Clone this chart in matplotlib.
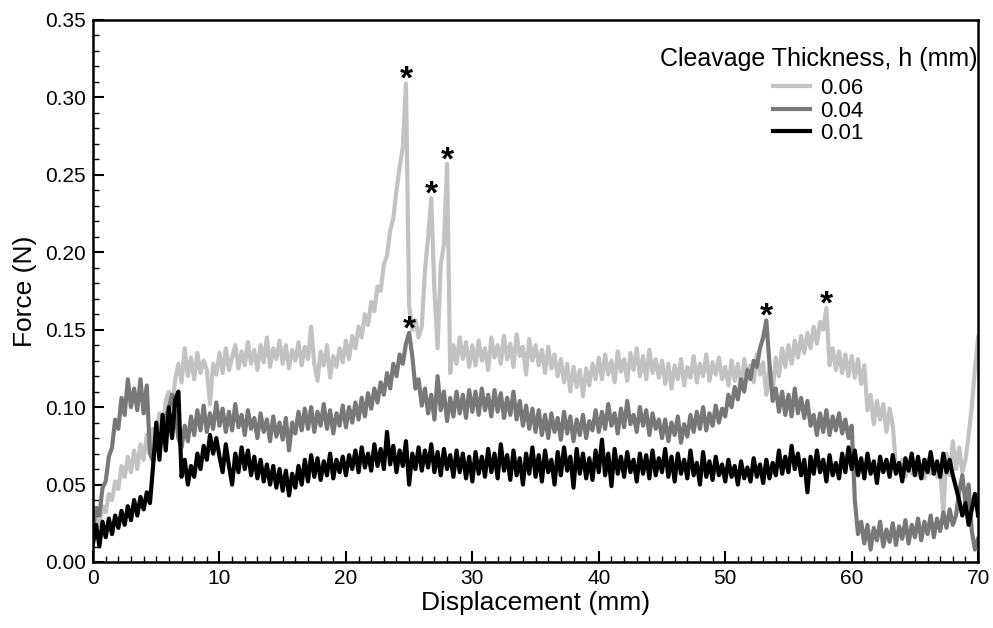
import numpy as np
import matplotlib
matplotlib.use("Agg")
import matplotlib.pyplot as plt
from matplotlib.ticker import MultipleLocator, FormatStrFormatter

# displacement grid (mm), one reading every 0.25 mm
disp = np.arange(0, 70.01, 0.25)

# force readings in mN, 20 values per 5 mm
force_h006 = [
    20, 28, 24, 36, 32, 44, 40, 52, 47, 62, 55, 68, 58, 72, 60, 76, 66, 82, 70, 86,
    78, 96, 84, 104, 110, 100, 118, 128, 116, 138, 120, 132, 118, 135, 122, 130, 124, 102, 128, 121,
    135, 122, 138, 124, 132, 140, 125, 136, 127, 142, 128, 137, 124, 140, 129, 145, 126, 138, 131, 143,
    128, 140, 125, 137, 130, 142, 127, 139, 131, 152, 128, 117, 136, 127, 140, 119, 133, 126, 138, 129,
    143, 131, 146, 138, 152, 145, 160, 153, 168, 162, 178, 175, 192, 198, 214, 222, 240, 255, 268, 309,
    165, 150, 156, 145, 152, 188, 210, 235, 175, 138, 192, 205, 257, 122, 140, 128, 145, 131, 142, 126,
    140, 127, 143, 130, 138, 124, 145, 132, 140, 128, 146, 131, 141, 126, 147, 133, 139, 121, 144, 130,
    140, 127, 137, 122, 139, 125, 134, 120, 131, 116, 128, 110, 126, 113, 124, 107, 125, 114, 128, 118,
    132, 118, 134, 121, 130, 116, 136, 123, 131, 117, 135, 124, 138, 120, 133, 118, 137, 122, 131, 119,
    130, 115, 128, 112, 127, 118, 131, 114, 126, 119, 133, 116, 128, 120, 134, 117, 129, 121, 132, 118,
    126, 114, 130, 117, 128, 112, 131, 119, 127, 116, 134, 121, 129, 108, 126, 110, 132, 120, 138, 126,
    140, 128, 143, 132, 146, 135, 148, 138, 152, 141, 155, 150, 164, 127, 138, 124, 136, 122, 134, 120,
    133, 119, 131, 115, 127, 98, 108, 89, 104, 92, 102, 84, 99, 88, 62, 58, 66, 55, 63, 57,
    64, 56, 62, 54, 66, 57, 63, 55, 60, 31, 70, 56, 78, 60, 74, 58, 66, 82, 100, 125,
    145,
]

force_h004 = [
    22, 35, 30, 48, 52, 68, 74, 92, 86, 106, 95, 118, 100, 112, 98, 118, 96, 114, 70, 65,
    76, 70, 86, 92, 100, 108, 96, 80, 74, 88, 78, 94, 82, 98, 85, 101, 84, 96, 86, 103,
    88, 99, 84, 97, 85, 102, 87, 95, 82, 98, 86, 93, 80, 96, 84, 92, 78, 94, 81, 90,
    79, 93, 72, 90, 83, 97, 85, 99, 86, 100, 84, 97, 88, 102, 86, 98, 83, 96, 88, 101,
    87, 100, 90, 103, 92, 106, 94, 109, 99, 112, 103, 116, 108, 122, 112, 128, 120, 134, 128, 141,
    148, 133, 112, 118, 101, 112, 96, 108, 92, 120, 98, 110, 91, 106, 94, 110, 96, 108, 93, 111,
    97, 110, 95, 112, 98, 108, 94, 111, 97, 109, 93, 106, 95, 110, 92, 104, 88, 101, 86, 99,
    84, 98, 82, 95, 80, 96, 84, 93, 79, 97, 83, 94, 78, 92, 82, 95, 80, 91, 85, 98,
    84, 97, 86, 102, 88, 96, 83, 99, 87, 104, 89, 95, 84, 100, 88, 98, 82, 96, 86, 92,
    80, 92, 78, 90, 82, 94, 77, 89, 81, 95, 84, 97, 86, 100, 85, 96, 88, 101, 90, 99,
    94, 108, 100, 113, 105, 118, 110, 124, 118, 130, 126, 138, 145, 156, 128, 104, 112, 97, 110, 95,
    108, 94, 112, 96, 106, 93, 104, 88, 95, 82, 96, 84, 98, 82, 94, 85, 96, 83, 92, 80,
    88, 40, 18, 26, 12, 24, 8, 22, 14, 26, 10, 21, 13, 25, 11, 23, 15, 27, 12, 24,
    16, 28, 14, 26, 18, 30, 16, 28, 20, 32, 22, 34, 24, 30, 45, 56, 38, 50, 20, 8,
    15,
]

force_h001 = [
    12, 24, 10, 26, 16, 28, 18, 30, 22, 33, 24, 36, 27, 40, 30, 42, 34, 45, 38, 62,
    90, 66, 95, 72, 100, 80, 105, 110, 55, 66, 50, 62, 55, 70, 60, 75, 66, 82, 70, 80,
    68, 58, 76, 62, 50, 70, 58, 74, 60, 72, 56, 68, 54, 66, 52, 63, 50, 62, 48, 60,
    46, 59, 43, 57, 48, 62, 50, 66, 52, 69, 55, 67, 53, 65, 56, 70, 54, 66, 58, 68,
    56, 69, 60, 72, 58, 74, 61, 70, 59, 76, 62, 73, 60, 84, 63, 75, 58, 72, 62, 78,
    50, 70, 60, 74, 59, 72, 61, 76, 58, 71, 56, 73, 60, 69, 55, 72, 58, 70, 54, 68,
    52, 71, 57, 68, 55, 73, 58, 70, 54, 76, 59, 69, 53, 72, 56, 67, 50, 70, 57, 74,
    55, 69, 52, 72, 58, 66, 50, 71, 56, 74, 59, 68, 48, 73, 57, 70, 54, 67, 53, 72,
    58, 79, 56, 70, 49, 73, 57, 68, 55, 71, 58, 66, 52, 70, 57, 69, 54, 72, 56, 67,
    58, 73, 55, 68, 52, 70, 57, 66, 54, 72, 56, 64, 50, 71, 55, 65, 53, 68, 56, 63,
    52, 66, 55, 62, 50, 65, 54, 61, 52, 67, 55, 63, 51, 66, 54, 64, 56, 72, 57, 68,
    58, 75, 60, 70, 56, 66, 45, 68, 57, 72, 58, 66, 52, 69, 56, 64, 54, 70, 58, 74,
    60, 72, 56, 67, 54, 70, 57, 65, 51, 68, 58, 66, 55, 69, 57, 64, 52, 67, 59, 70,
    56, 68, 54, 66, 58, 71, 57, 65, 55, 70, 58, 66, 56, 48, 40, 30, 38, 24, 34, 44,
    30,
]

series = [
    ("0.06", force_h006, "#c2c2c2"),
    ("0.04", force_h004, "#787878"),
    ("0.01", force_h001, "#000000"),
]

# peaks marked with an asterisk: (series index, displacement)
star_marks = [(0, 24.75), (0, 26.75), (0, 28.0), (1, 25.0), (1, 53.25), (0, 58.0)]

plt.rcParams['font.family'] = ['Liberation Sans', 'DejaVu Sans']

fig = plt.figure(figsize=(9.93, 6.28), dpi=100)
ax = fig.add_axes([0.0937, 0.1051, 0.8913, 0.8631])

for label, vals, col in series:
    ax.plot(disp, np.array(vals) / 1000.0, color=col, lw=3.0, label=label)

for idx, xv in star_marks:
    yv = series[idx][1][int(round(xv / 0.25))] / 1000.0
    ax.annotate("*", xy=(xv, yv), xytext=(0, -9), textcoords="offset points",
                ha="center", va="bottom", fontsize=24, fontweight="bold")

ax.set_xlim(0, 70)
ax.set_ylim(0, 0.35)
ax.xaxis.set_major_locator(MultipleLocator(10))
ax.xaxis.set_minor_locator(MultipleLocator(1))
ax.yaxis.set_major_locator(MultipleLocator(0.05))
ax.yaxis.set_minor_locator(MultipleLocator(0.01))
ax.yaxis.set_major_formatter(FormatStrFormatter('%.2f'))
ax.tick_params(which='major', direction='in', length=8, width=1.5, labelsize=15, pad=5)
ax.tick_params(which='minor', direction='in', length=4, width=1.0)
for sp in ax.spines.values():
    sp.set_linewidth(1.8)

ax.set_xlabel("Displacement (mm)", fontsize=19, labelpad=2)
ax.set_ylabel("Force (N)", fontsize=19, labelpad=6)

leg = ax.legend(title="Cleavage Thickness, h (mm)", loc="upper right", frameon=False,
                fontsize=16, title_fontsize=18, handlelength=1.65, labelspacing=0.07,
                handletextpad=0.45, borderpad=0.0, borderaxespad=0.0,
                bbox_to_anchor=(0.999, 0.95))
leg._legend_box.sep = 5  # a bit more room under the title

fig.savefig("out.png", dpi=100)
